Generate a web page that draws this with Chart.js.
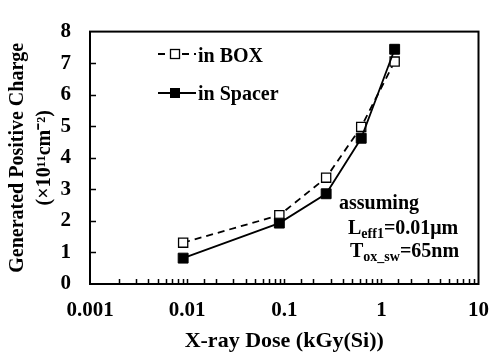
<!DOCTYPE html>
<html><head><meta charset="utf-8">
<script src="https://cdn.jsdelivr.net/npm/chart.js@4/dist/chart.umd.min.js"></script>
<style>html,body{margin:0;padding:0;background:#fff}canvas{display:block}</style>
</head><body>
<canvas id="c" width="503" height="360"></canvas>
<script>
const doses = [0.0091, 0.089, 0.27, 0.62, 1.37];
const chargeBox = [1.31, 2.18, 3.37, 4.98, 7.05];
const chargeSpacer = [0.82, 1.93, 2.86, 4.62, 7.44];
const xTickLabels = ['0.001', '0.01', '0.1', '1', '10'];
const yTicks = [0, 1, 2, 3, 4, 5, 6, 7, 8];
const seriesNames = ['in BOX', 'in Spacer'];
const xTitle = 'X-ray Dose (kGy(Si))';
const yTitle = ['Generated Positive Charge', '(×10¹¹cm⁻²)'];

const FF = '"Liberation Serif", "Times New Roman", serif';

function isDecade(v) {
  const l = Math.log10(v);
  return Math.abs(l - Math.round(l)) < 1e-6;
}

const framePlugin = {
  id: 'frame',
  afterDraw(chart) {
    const ctx = chart.ctx;
    const a = chart.chartArea;
    const xs = chart.scales.x, ys = chart.scales.y;
    ctx.save();
    ctx.strokeStyle = '#000';
    ctx.lineWidth = 1.5;
    // inward ticks
    ctx.beginPath();
    xs.ticks.forEach(t => {
      const px = Math.round(xs.getPixelForValue(t.value)) + 0.5;
      if (px <= a.left + 1 || px >= a.right - 1) return;
      ctx.moveTo(px, a.bottom);
      ctx.lineTo(px, a.bottom - 5);
    });
    ys.ticks.forEach(t => {
      const py = Math.round(ys.getPixelForValue(t.value)) + 0.5;
      if (py <= a.top + 1 || py >= a.bottom - 1) return;
      ctx.moveTo(a.left, py);
      ctx.lineTo(a.left + 6, py);
    });
    ctx.stroke();
    ctx.lineWidth = 2;
    ctx.strokeRect(a.left, a.top, a.right - a.left, a.bottom - a.top);

    // legend
    ctx.fillStyle = '#000';
    ctx.lineWidth = 1.8;
    ctx.setLineDash([7, 5]);
    ctx.beginPath(); ctx.moveTo(158, 54); ctx.lineTo(196, 54); ctx.stroke();
    ctx.setLineDash([]);
    ctx.fillStyle = '#fff';
    ctx.fillRect(170.5, 49.5, 9, 9);
    ctx.lineWidth = 1.3;
    ctx.strokeRect(170.5, 49.5, 9, 9);
    ctx.lineWidth = 1.8;
    ctx.beginPath(); ctx.moveTo(158, 93); ctx.lineTo(196, 93); ctx.stroke();
    ctx.fillStyle = '#000';
    ctx.fillRect(170, 88, 10, 10);
    ctx.font = 'bold 20px ' + FF;
    ctx.textBaseline = 'alphabetic';
    ctx.textAlign = 'left';
    ctx.fillText(seriesNames[0], 198, 62);
    ctx.fillText(seriesNames[1], 198, 100);

    // annotation
    ctx.fillText('assuming', 339, 209);
    function sub(parts, x, y) {
      parts.forEach(p => {
        ctx.font = 'bold ' + (p[1] ? 14 : 20) + 'px ' + FF;
        ctx.fillText(p[0], x, y + (p[1] ? 4 : 0));
        x += ctx.measureText(p[0]).width;
      });
    }
    sub([['L', 0], ['eff1', 1], ['=0.01μm', 0]], 348, 234);
    sub([['T', 0], ['ox_sw', 1], ['=65nm', 0]], 350, 257);
    ctx.restore();
  }
};

const ptsBox = doses.map((d, i) => ({x: d, y: chargeBox[i]}));
const ptsSpacer = doses.map((d, i) => ({x: d, y: chargeSpacer[i]}));

new Chart(document.getElementById('c'), {
  type: 'line',
  data: {
    datasets: [
      {label: seriesNames[0], data: ptsBox, order: 1, borderColor: '#000', borderWidth: 1.8, borderDash: [7, 5],
       pointStyle: 'rect', pointRadius: 6.5, pointBackgroundColor: '#fff', pointBorderColor: '#000', pointBorderWidth: 1.3,
       tension: 0, fill: false},
      {label: seriesNames[1], data: ptsSpacer, order: 0, borderColor: '#000', borderWidth: 1.8,
       pointStyle: 'rect', pointRadius: 7, pointBackgroundColor: '#000', pointBorderColor: '#000', pointBorderWidth: 1,
       tension: 0, fill: false}
    ]
  },
  options: {
    responsive: false, animation: false, devicePixelRatio: 1,
    layout: {padding: {top: 12, right: 13, left: 0, bottom: 0}},
    plugins: {legend: {display: false}, tooltip: {enabled: false}},
    scales: {
      x: {
        type: 'logarithmic', min: 0.001, max: 10,
        grid: {display: false, drawTicks: false}, border: {display: false},
        ticks: {
          autoSkip: false, maxRotation: 0, minRotation: 0, padding: 14, color: '#000',
          font: {family: FF, size: 21, weight: 'bold'},
          callback: (v) => isDecade(v) ? xTickLabels[Math.round(Math.log10(v)) + 3] : ''
        },
        title: {display: true, text: xTitle, color: '#000', font: {family: FF, size: 22, weight: 'bold', lineHeight: 1.2}, padding: {top: 0, bottom: 5}},
        afterFit: s => { s.height = 76; }
      },
      y: {
        min: 0, max: 8,
        grid: {display: false, drawTicks: false}, border: {display: false},
        afterBuildTicks: s => { s.ticks = yTicks.map(v => ({value: v})); },
        ticks: {padding: 19, color: '#000', font: {family: FF, size: 21, weight: 'bold'}},
        title: {display: true, text: yTitle, color: '#000', font: {family: FF, size: 20, weight: 'bold', lineHeight: 1.35}, padding: {top: 4.5, bottom: 0}},
        afterFit: s => { s.width = 90; }
      }
    }
  },
  plugins: [framePlugin]
});
</script>
</body></html>
